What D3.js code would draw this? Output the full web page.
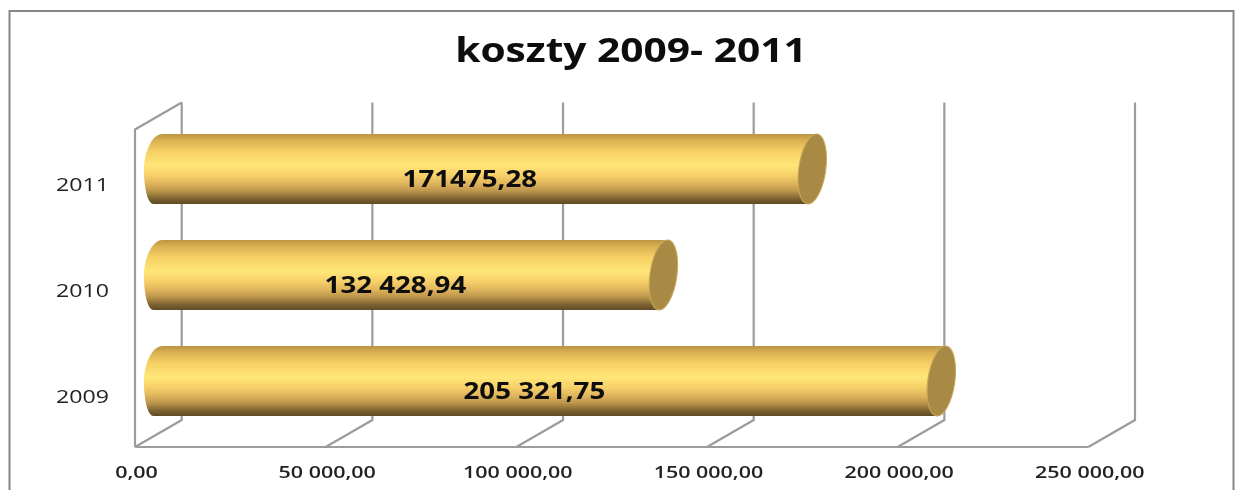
<!DOCTYPE html>
<html><head><meta charset="utf-8">
<script src="https://cdn.jsdelivr.net/npm/d3@7"></script>
<style>html,body{margin:0;padding:0;background:#fff;overflow:hidden}svg{display:block}</style>
</head><body><svg id="c" width="1243" height="490"></svg>
<script>
const categories = ["2009","2010","2011"];
const values = [205321.75,132428.94,171475.28];
const valueLabels = ["205 321,75","132 428,94","171475,28"];
const ticks = [0,50000,100000,150000,200000,250000];
const tickLabels = ["0,00","50 000,00","100 000,00","150 000,00","200 000,00","250 000,00"];
const title = "koszty 2009- 2011";

const svg = d3.select("#c");
const x = d3.scaleLinear().domain([0,250000]).range([135,1088.3]);
const y = d3.scaleBand().domain(["2011","2010","2009"]).range([116,434]);
const dx = 46.7, dy = 27, barOff = 23.4;
const rx = 14.5, ry = 35;
const floorY = 447, topY = 129.5;

const defs = svg.append("defs");
const g = defs.append("linearGradient").attr("id","cyl").attr("x1",0).attr("x2",0).attr("y1",0).attr("y2",1);
[[0,"#bb9540"],[0.1,"#dcb253"],[0.25,"#f7d065"],[0.45,"#ffe677"],[0.6,"#f6ce68"],[0.72,"#dcb25a"],[0.82,"#b8934a"],[0.92,"#7f6433"],[1,"#5f4a24"]]
 .forEach(s=>g.append("stop").attr("offset",s[0]).attr("stop-color",s[1]));
const blur = defs.append("filter").attr("id","soft").attr("x","-5%").attr("y","-20%").attr("width","110%").attr("height","140%");
blur.append("feGaussianBlur").attr("stdDeviation",0.5);

svg.append("rect").attr("x",9.5).attr("y",11).attr("width",1224).attr("height",500)
  .attr("fill","#fff").attr("stroke","#868686").attr("stroke-width",2);

const grid = svg.append("g").attr("fill","none").attr("stroke","#9c9c9c").attr("stroke-width",2.2);
grid.selectAll("path.g").data(ticks).join("path").attr("class","g")
  .attr("d",t=>`M${x(t)},${floorY}L${x(t)+dx},${floorY-dy}V${topY-dy}`);
grid.append("path").attr("d",`M${x(0)},${floorY}H${x(250000)}`);
grid.append("path").attr("d",`M${x(0)},${floorY}V${topY}L${x(0)+dx},${topY-dy}`);

const bars = svg.append("g").selectAll("g").data(categories.map((c,i)=>({c,v:values[i],l:valueLabels[i]}))).join("g");
bars.append("path")
  .attr("fill","url(#cyl)")
  .attr("d",d=>{
    const cy=y(d.c)+y.bandwidth()/2, x0=x(0)+barOff, x1=x(d.v)+barOff;
    return `M${x0+4},${cy-ry}H${x1+4.5}L${x1-4.5},${cy+ry}H${x0-5}C${x0-11},${cy+ry} ${x0-14.5},${cy+18} ${x0-14.5},${cy}C${x0-14.5},${cy-15} ${x0-7},${cy-ry} ${x0+4},${cy-ry}Z`;
  });
bars.append("ellipse")
  .attr("cx",d=>x(d.v)+barOff).attr("cy",d=>y(d.c)+y.bandwidth()/2)
  .attr("rx",rx-1).attr("ry",ry+0.3)
  .attr("transform",d=>`rotate(8 ${x(d.v)+barOff} ${y(d.c)+y.bandwidth()/2})`)
  .attr("fill","#a98a45").attr("stroke","#c9a95c").attr("stroke-width",1);

const font = "'Open Sans', 'DejaVu Sans', sans-serif";
const place = (sel,sx,fx,fy)=>sel.attr("transform",(d,i)=>`translate(${fx(d,i)},${fy(d,i)}) scale(${sx},1)`);

place(bars.append("text").text(d=>d.l)
  .attr("text-anchor","middle").attr("font-family",font).attr("font-weight",700).attr("font-size",22.5)
  .attr("fill","#111").attr("filter","url(#soft)"),
  1.23, d=>(x(d.v)+x(0))/2+barOff-15.5, d=>y(d.c)+y.bandwidth()/2+18);

place(svg.append("g").selectAll("text").data(ticks).join("text")
  .text((t,i)=>tickLabels[i])
  .attr("text-anchor","middle").attr("font-family",font).attr("font-weight",600).attr("font-size",16.5)
  .attr("fill","#222").attr("filter","url(#soft)"),
  1.3, t=>x(t)+1.5, ()=>477.5);

place(svg.append("g").selectAll("text").data(categories).join("text")
  .text(d=>d)
  .attr("text-anchor","end").attr("font-family",font).attr("font-size",18.5)
  .attr("fill","#222").attr("filter","url(#soft)"),
  1.25, ()=>109, d=>y(d)+y.bandwidth()/2+21.5);

place(svg.append("g").selectAll("text").data([title]).join("text").text(d=>d)
  .attr("text-anchor","middle").attr("font-family",font).attr("font-weight",700).attr("font-size",34.5)
  .attr("fill","#0b0b0b").attr("filter","url(#soft)"),
  1.18, ()=>631, ()=>62);
</script></body></html>
